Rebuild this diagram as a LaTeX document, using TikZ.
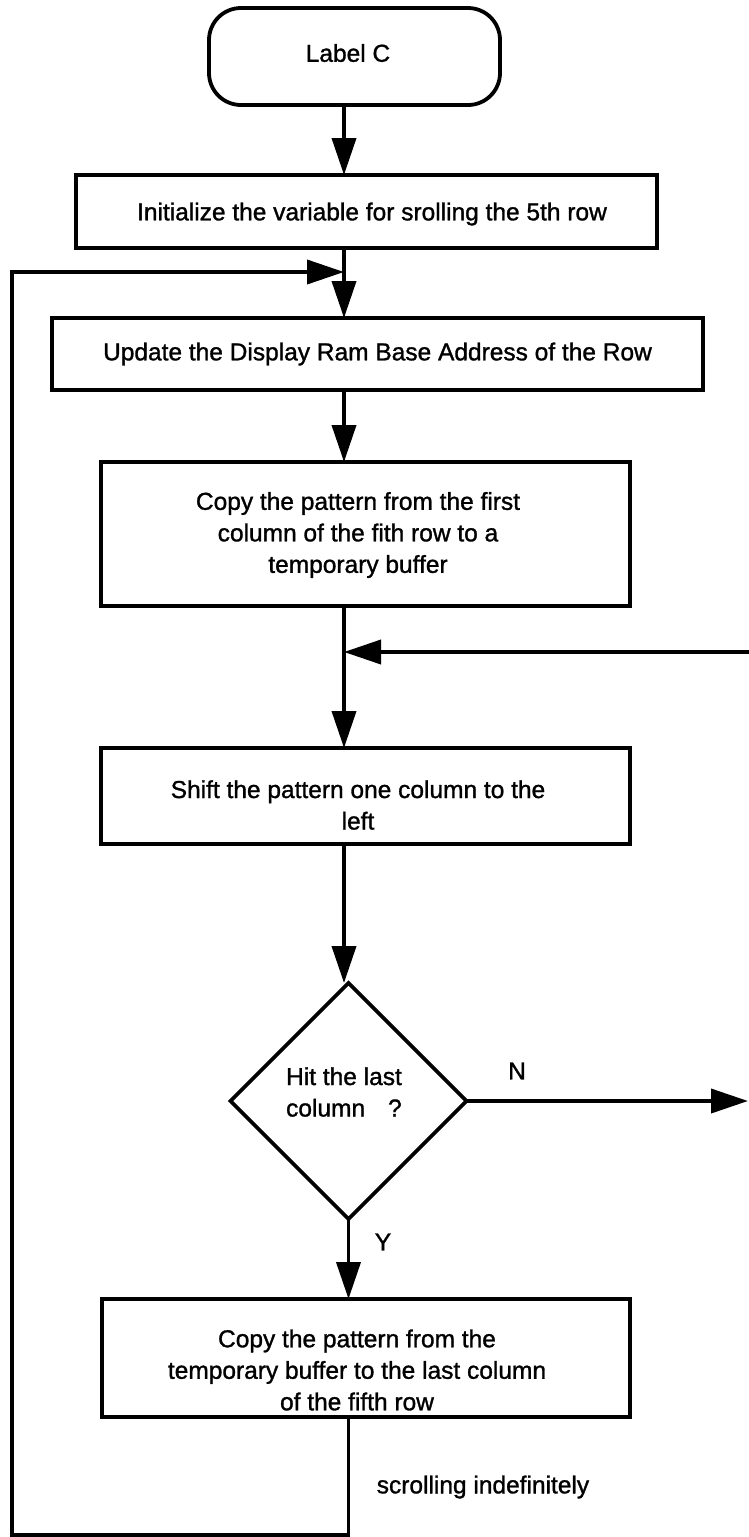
\documentclass[tikz,border=0pt]{standalone}
\usepackage{fontspec}
\setmainfont{Liberation Sans}[FakeBold=1.2]
\usetikzlibrary{arrows.meta,shapes.geometric}
\begin{document}
\begin{tikzpicture}[x=1pt,y=-1pt,
  every node/.style={font=\fontsize{24.5}{31.5}\selectfont, inner sep=0pt, outer sep=0pt},
  procbox/.style={draw, line width=3.8pt, rectangle, align=center},
  termbox/.style={draw, line width=3.8pt, rectangle, rounded corners=32pt, align=center},
  decbox/.style={draw, line width=3.8pt, diamond, minimum width=236pt, minimum height=236pt},
  lbl/.style={align=center},
  arr/.style={line width=3.8pt, -{Triangle[length=37pt,width=24pt]}}]
\useasboundingbox (0,0) rectangle (748,1537);
\fill[white] (0,0) rectangle (748,1537);

\coordinate (colx) at (344,0);

\node[termbox, minimum width=291pt, minimum height=97pt] (lblC) at (354.5,56.5) {};
\node[lbl] (lblCt) at (348,53) {Label C};
\node[procbox, minimum width=581pt, minimum height=73pt] (init) at (366.5,211.5) {};
\node[lbl] (initt) at (372,214) {Initialize the variable for srolling the 5th row};
\node[procbox, minimum width=651pt, minimum height=72pt] (upd) at (377.5,354) {Update the Display Ram Base Address of the Row};
\node[procbox, minimum width=529pt, minimum height=144pt] (cp1) at (365.5,534) {};
\node[lbl] (cp1t) at (358,535) {Copy the pattern from the first\\column of the fith row to a\\temporary buffer};
\node[procbox, minimum width=529pt, minimum height=96pt] (shift) at (365.5,796) {};
\node[lbl] (shiftt) at (358,805) {Shift the pattern one column to the\\left};
\node[decbox] (dec) at (348.5,1101) {};
\node[lbl, align=left] (dect) at (344,1092) {Hit the last\\column\hspace{23pt}?};
\node[procbox, minimum width=528pt, minimum height=118pt] (cp2) at (366,1358) {};
\node[lbl] (cp2t) at (357,1370) {Copy the pattern from the\\temporary buffer to the last column\\of the fifth row};

\node (nlab) at (517,1071) {N};
\node (ylab) at (383,1242) {Y};
\node (slab) at (483,1487) {scrolling indefinitely};

\coordinate (backR) at (749,652);
\coordinate (nR) at (748,1101);
\coordinate (loopB) at (12,1535);
\coordinate (loopL) at (12,272);

\draw[arr] (lblC.south -| colx) -- (init.north -| colx);
\draw[arr] (init.south -| colx) -- (upd.north -| colx);
\draw[arr] (upd.south -| colx) -- (cp1.north -| colx);
\draw[arr] (cp1.south -| colx) -- (shift.north -| colx);
\draw[arr] (shift.south -| colx) -- (dec.north -| colx);
\draw[arr] (backR) -- (backR -| colx);
\draw[arr] (dec.east) -- (nR);
\draw[arr] (dec.south) -- (cp2.north -| dec.south);
\draw[arr] (cp2.south -| dec.south) -- (loopB -| dec.south) -- (loopB) -- (loopL) -- (loopL -| colx);
\end{tikzpicture}
\end{document}
